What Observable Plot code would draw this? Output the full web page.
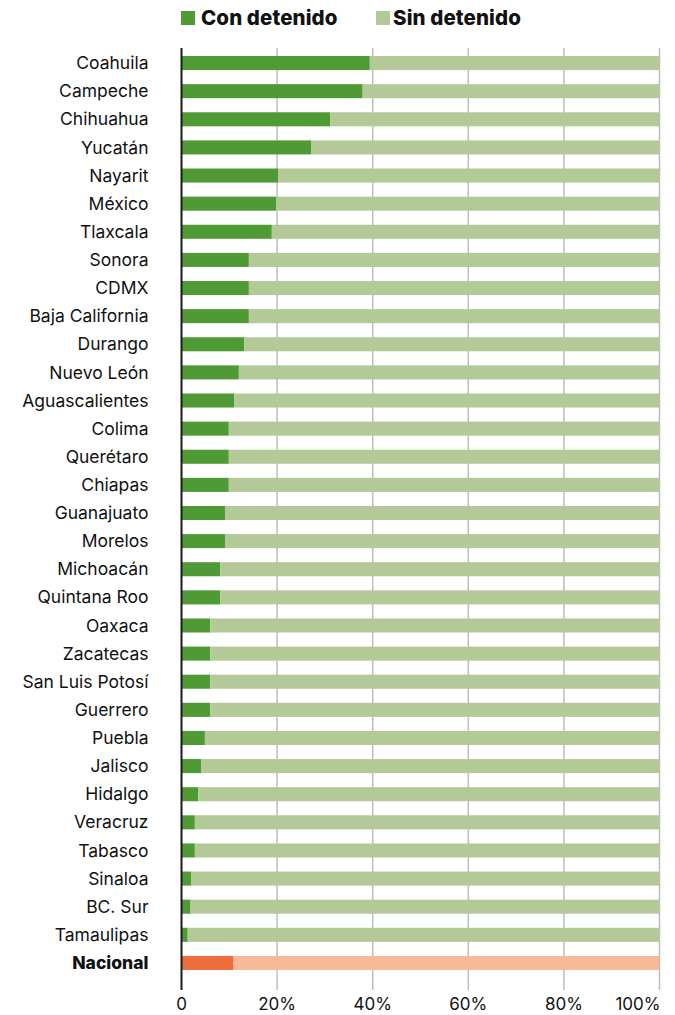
<!DOCTYPE html>
<html>
<head>
<meta charset="utf-8">
<script src="https://cdn.jsdelivr.net/npm/d3@7"></script>
<script src="https://cdn.jsdelivr.net/npm/@observablehq/plot@0.6"></script>
<style>
  html, body { margin: 0; padding: 0; background: #fff; }
  body { width: 675px; font-family: Inter, Lato, sans-serif; }
  #legend { position: relative; height: 36px; }
  .sw { position: absolute; top: 11px; width: 14px; height: 14px; }
  .lt { position: absolute; top: 4px; font-size: 20.5px; font-weight: 800; color: #111; line-height: 28px; letter-spacing: 0.1px; }
  #chart svg { display: block; }
</style>
</head>
<body>
<div id="legend">
  <div class="sw" style="left:181px;background:#4f9a35"></div>
  <div class="lt" style="left:201px">Con detenido</div>
  <div class="sw" style="left:376px;background:#b3ca98"></div>
  <div class="lt" style="left:393px">Sin detenido</div>
</div>
<div id="chart"></div>
<script>
const states = ["Coahuila","Campeche","Chihuahua","Yucatán","Nayarit","México","Tlaxcala","Sonora","CDMX","Baja California","Durango","Nuevo León","Aguascalientes","Colima","Querétaro","Chiapas","Guanajuato","Morelos","Michoacán","Quintana Roo","Oaxaca","Zacatecas","San Luis Potosí","Guerrero","Puebla","Jalisco","Hidalgo","Veracruz","Tabasco","Sinaloa","BC. Sur","Tamaulipas","Nacional"];
const conDetenido = [39.5,38,31.2,27.2,20.3,19.9,19,14.2,14.2,14.2,13.2,12.1,11.1,10,10,10,9.2,9.2,8.2,8.2,6.1,6.1,6.1,6.1,5,4.2,3.6,2.9,2.9,2.1,2,1.4,11];
const xTicks = [0,20,40,60,80,100];
const xTickLabels = ["0","20%","40%","60%","80%","100%"];

const rows = states.map((s, i) => ({state: s, con: conDetenido[i], nacional: s === "Nacional"}));
const ticks = xTicks.map((t, i) => ({t, label: xTickLabels[i]}));

const chart = Plot.plot({
  width: 675,
  height: 979,
  marginLeft: 181,
  marginRight: 16,
  marginTop: 12,
  marginBottom: 25,
  style: {fontFamily: "Inter, Lato, sans-serif", fontSize: "17.5px", color: "#111"},
  x: {domain: [0, 100], axis: null},
  y: {domain: states, range: [13, 941], paddingInner: 0.5, paddingOuter: 0.25, round: false, axis: null},
  marks: [
    Plot.ruleX(xTicks.filter(t => t > 0), {stroke: "#bdbdbd", strokeWidth: 1.5}),
    Plot.barX(rows, {y: "state", x1: 0, x2: "con", fill: d => d.nacional ? "#ee6d3c" : "#4f9a35"}),
    Plot.barX(rows, {y: "state", x1: "con", x2: 100, fill: d => d.nacional ? "#f7ba99" : "#b3ca98"}),
    Plot.ruleX([0], {stroke: "#1a1a1a", strokeWidth: 2}),
    Plot.text(rows.filter(d => !d.nacional), {y: "state", x: 0, text: "state", textAnchor: "end", dx: -33, fontSize: 17.5, fill: "#111"}),
    Plot.text(rows.filter(d => d.nacional), {y: "state", x: 0, text: "state", textAnchor: "end", dx: -33, fontSize: 17.5, fontWeight: 800, fill: "#111"}),
    Plot.text(ticks.filter(d => d.t < 100), {x: "t", text: "label", frameAnchor: "bottom", lineAnchor: "middle", dy: 14.5, textAnchor: "middle", fontSize: 17, fill: "#111"}),
    Plot.text(ticks.filter(d => d.t === 100), {x: "t", text: "label", frameAnchor: "bottom", lineAnchor: "middle", dy: 14.5, textAnchor: "end", dx: 1, fontSize: 17, fill: "#111"})
  ]
});
document.getElementById("chart").appendChild(chart);
</script>
</body>
</html>
